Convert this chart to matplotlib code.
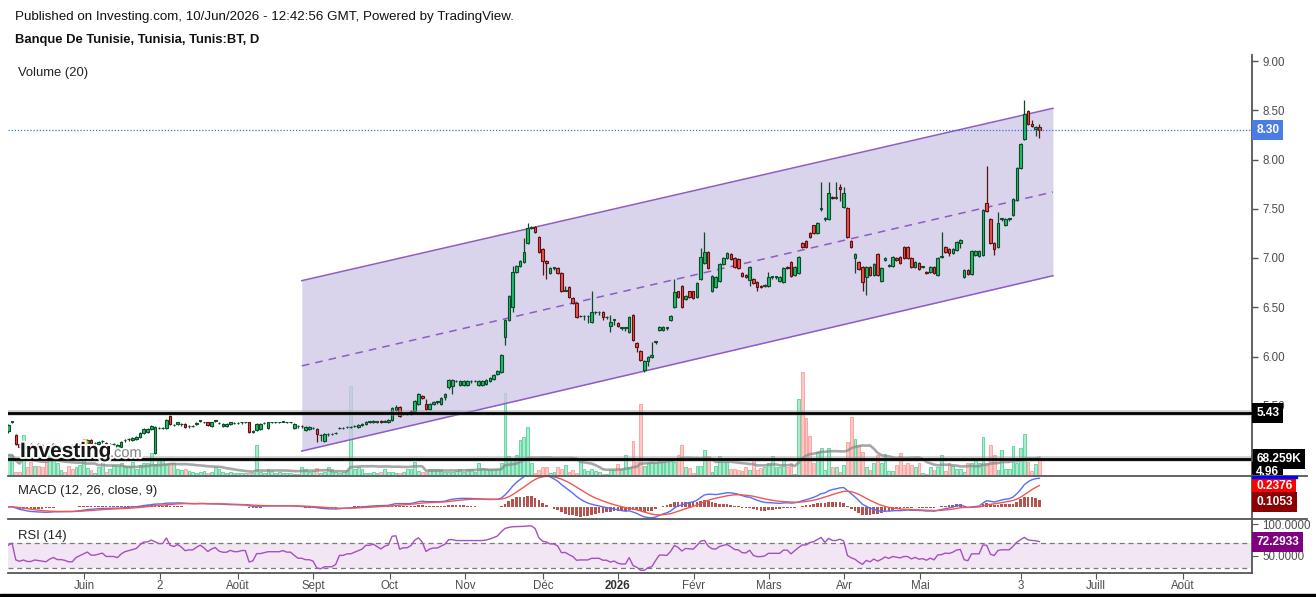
import numpy as np
import pandas as pd
import matplotlib
matplotlib.use("Agg")
import matplotlib.pyplot as plt
from matplotlib.lines import Line2D
from matplotlib.patches import Rectangle
from matplotlib.transforms import Bbox, blended_transform_factory
import matplotlib.patheffects as pe

plt.rcParams['font.family'] = ['Liberation Sans', 'DejaVu Sans']

# daily candles, Banque De Tunisie
opens = [
    5.24, 5.34, 5.20, 5.11, 5.07, 5.08, 5.11, 5.08, 5.11, 5.10, 5.07, 5.08, 5.05, 5.08, 5.07,
    5.08, 5.09, 5.10, 5.06, 5.09, 5.11, 5.12, 5.15, 5.12, 5.11, 5.14, 5.12, 5.11, 5.11, 5.07,
    5.08, 5.15, 5.16, 5.15, 5.16, 5.18, 5.22, 5.23, 5.26, 5.02, 5.27, 5.27, 5.27, 5.40, 5.30,
    5.31, 5.31, 5.31, 5.29, 5.29, 5.31, 5.35, 5.33, 5.33, 5.29, 5.35, 5.32, 5.29, 5.29, 5.31,
    5.32, 5.32, 5.33, 5.33, 5.33, 5.23, 5.25, 5.26, 5.32, 5.27, 5.33, 5.33, 5.33, 5.34, 5.33,
    5.33, 5.27, 5.29, 5.29, 5.25, 5.26, 5.27, 5.26, 5.20, 5.14, 5.21, 5.21, 5.22, 5.27, 5.27,
    5.28, 5.28, 5.29, 5.28, 5.30, 5.31, 5.34, 5.33, 5.34, 5.35, 5.34, 5.33, 5.36, 5.46, 5.49,
    5.42, 5.42, 5.42, 5.45, 5.52, 5.60, 5.52, 5.47, 5.52, 5.54, 5.52, 5.59, 5.69, 5.70, 5.75,
    5.71, 5.71, 5.71, 5.75, 5.75, 5.71, 5.71, 5.72, 5.75, 5.77, 5.82, 5.84, 6.20, 6.37, 6.50,
    6.86, 6.92, 6.96, 7.15, 7.30, 7.31, 7.21, 7.09, 6.97, 6.85, 6.90, 6.90, 6.85, 6.67, 6.71,
    6.59, 6.54, 6.41, 6.41, 6.41, 6.35, 6.45, 6.45, 6.45, 6.40, 6.31, 6.37, 6.34, 6.29, 6.29,
    6.25, 6.42, 6.14, 6.06, 5.86, 5.95, 5.99, 6.15, 6.27, 6.27, 6.29, 6.37, 6.50, 6.66, 6.72,
    6.58, 6.66, 6.66, 6.60, 6.79, 6.95, 7.06, 6.66, 6.71, 6.77, 6.94, 7.00, 7.04, 7.00, 6.99,
    6.85, 6.83, 6.78, 6.79, 6.76, 6.72, 6.72, 6.72, 6.81, 6.81, 6.77, 6.76, 6.91, 6.96, 6.83,
    6.85, 7.15, 7.17, 7.25, 7.33, 7.25, 7.50, 7.40, 7.40, 7.62, 7.61, 7.72, 7.52, 7.51, 7.17,
    7.00, 6.96, 6.91, 6.81, 6.91, 6.83, 7.04, 6.77, 6.98, 6.92, 6.92, 7.00, 7.01, 7.11, 7.11,
    7.00, 6.91, 6.95, 6.91, 6.86, 6.86, 6.91, 6.83, 7.01, 7.11, 7.09, 7.05, 7.08, 7.15, 6.81,
    6.88, 6.84, 7.03, 7.02, 7.03, 7.56, 7.40, 7.15, 7.11, 7.40, 7.33, 7.40, 7.44, 7.59, 7.91,
    8.21, 8.49, 8.36, 8.31, 8.33,
]
closes = [
    5.30, 5.34, 5.11, 5.08, 5.10, 5.07, 5.07, 5.09, 5.08, 5.07, 5.06, 5.09, 5.11, 5.08, 5.08,
    5.07, 5.05, 5.05, 5.09, 5.11, 5.13, 5.15, 5.12, 5.12, 5.13, 5.14, 5.11, 5.11, 5.11, 5.10,
    5.13, 5.15, 5.16, 5.17, 5.18, 5.22, 5.26, 5.26, 5.29, 5.28, 5.27, 5.27, 5.36, 5.31, 5.30,
    5.33, 5.31, 5.28, 5.29, 5.29, 5.32, 5.35, 5.33, 5.30, 5.33, 5.35, 5.32, 5.31, 5.31, 5.33,
    5.32, 5.32, 5.33, 5.33, 5.23, 5.24, 5.31, 5.31, 5.32, 5.33, 5.33, 5.33, 5.33, 5.34, 5.33,
    5.33, 5.31, 5.29, 5.29, 5.28, 5.28, 5.27, 5.21, 5.20, 5.21, 5.21, 5.21, 5.22, 5.27, 5.27,
    5.28, 5.28, 5.29, 5.30, 5.31, 5.34, 5.34, 5.35, 5.34, 5.33, 5.35, 5.36, 5.48, 5.49, 5.40,
    5.42, 5.42, 5.45, 5.55, 5.62, 5.58, 5.47, 5.52, 5.54, 5.54, 5.58, 5.62, 5.76, 5.76, 5.75,
    5.75, 5.75, 5.75, 5.75, 5.75, 5.75, 5.75, 5.76, 5.78, 5.81, 5.85, 6.02, 6.37, 6.61, 6.86,
    6.92, 6.97, 7.06, 7.30, 7.31, 7.26, 7.06, 6.97, 6.95, 6.90, 6.90, 6.85, 6.66, 6.67, 6.60,
    6.54, 6.40, 6.41, 6.41, 6.41, 6.45, 6.45, 6.45, 6.40, 6.40, 6.35, 6.37, 6.31, 6.29, 6.29,
    6.40, 6.17, 6.10, 5.96, 5.95, 6.00, 6.02, 6.15, 6.30, 6.30, 6.29, 6.41, 6.65, 6.60, 6.50,
    6.61, 6.60, 6.59, 6.75, 7.01, 7.06, 6.90, 6.82, 6.81, 6.94, 7.00, 7.05, 6.99, 6.91, 6.90,
    6.82, 6.81, 6.91, 6.75, 6.71, 6.71, 6.73, 6.81, 6.81, 6.81, 6.81, 6.90, 6.90, 6.82, 6.91,
    7.01, 7.11, 7.11, 7.21, 7.25, 7.36, 7.50, 7.40, 7.66, 7.61, 7.61, 7.70, 7.66, 7.21, 7.11,
    7.04, 6.89, 6.76, 6.91, 6.83, 6.94, 6.83, 6.90, 7.00, 6.93, 7.01, 6.98, 6.95, 7.00, 7.00,
    6.91, 6.96, 6.89, 6.91, 6.85, 6.91, 6.85, 7.00, 7.01, 7.06, 7.05, 7.09, 7.16, 7.18, 6.88,
    6.84, 7.07, 7.07, 7.07, 7.49, 7.48, 7.15, 7.09, 7.36, 7.40, 7.40, 7.40, 7.60, 7.91, 8.16,
    8.46, 8.36, 8.34, 8.33, 8.30,
]
highs = [
    5.31, 5.35, 5.21, 5.12, 5.11, 5.09, 5.12, 5.10, 5.12, 5.11, 5.08, 5.10, 5.12, 5.09, 5.09,
    5.09, 5.10, 5.11, 5.10, 5.12, 5.14, 5.16, 5.16, 5.13, 5.14, 5.15, 5.13, 5.12, 5.12, 5.11,
    5.14, 5.16, 5.17, 5.18, 5.19, 5.23, 5.27, 5.27, 5.30, 5.29, 5.28, 5.28, 5.37, 5.41, 5.31,
    5.34, 5.32, 5.32, 5.30, 5.30, 5.33, 5.36, 5.34, 5.34, 5.34, 5.36, 5.33, 5.32, 5.32, 5.34,
    5.33, 5.33, 5.34, 5.34, 5.34, 5.25, 5.32, 5.32, 5.33, 5.34, 5.34, 5.34, 5.34, 5.35, 5.34,
    5.34, 5.32, 5.30, 5.30, 5.29, 5.29, 5.28, 5.27, 5.21, 5.22, 5.22, 5.22, 5.23, 5.28, 5.28,
    5.29, 5.29, 5.30, 5.31, 5.32, 5.35, 5.35, 5.36, 5.35, 5.36, 5.36, 5.37, 5.49, 5.51, 5.50,
    5.43, 5.43, 5.46, 5.56, 5.63, 5.61, 5.57, 5.53, 5.55, 5.55, 5.59, 5.63, 5.77, 5.77, 5.76,
    5.76, 5.76, 5.76, 5.76, 5.76, 5.76, 5.76, 5.77, 5.79, 5.82, 5.86, 6.03, 6.38, 6.62, 6.92,
    6.93, 6.98, 7.20, 7.36, 7.32, 7.32, 7.22, 7.10, 6.98, 6.91, 6.91, 6.91, 6.86, 6.72, 6.72,
    6.60, 6.55, 6.42, 6.42, 6.42, 6.67, 6.46, 6.46, 6.46, 6.41, 6.42, 6.38, 6.35, 6.30, 6.30,
    6.41, 6.43, 6.15, 6.07, 5.96, 6.01, 6.15, 6.16, 6.31, 6.31, 6.30, 6.42, 6.79, 6.67, 6.73,
    6.62, 6.67, 6.67, 6.76, 7.10, 7.26, 7.07, 6.83, 6.82, 6.95, 7.01, 7.06, 7.05, 7.01, 7.00,
    6.86, 6.84, 6.92, 6.80, 6.77, 6.73, 6.74, 6.86, 6.82, 6.82, 6.82, 6.91, 6.92, 6.97, 6.92,
    7.02, 7.16, 7.18, 7.26, 7.34, 7.37, 7.77, 7.42, 7.77, 7.63, 7.77, 7.75, 7.72, 7.52, 7.18,
    7.05, 6.97, 6.92, 6.92, 6.92, 6.95, 7.05, 6.91, 7.01, 6.94, 7.02, 7.01, 7.02, 7.12, 7.12,
    7.01, 6.97, 6.96, 6.92, 6.87, 6.92, 6.92, 7.01, 7.26, 7.12, 7.10, 7.10, 7.17, 7.19, 6.89,
    6.89, 7.08, 7.08, 7.08, 7.50, 7.93, 7.41, 7.16, 7.47, 7.41, 7.41, 7.41, 7.61, 7.92, 8.17,
    8.60, 8.50, 8.40, 8.34, 8.36,
]
lows = [
    5.22, 5.32, 5.10, 5.07, 5.06, 5.06, 5.06, 5.07, 5.07, 5.06, 5.05, 5.07, 5.04, 5.07, 5.06,
    5.06, 5.04, 5.04, 5.05, 5.08, 5.10, 5.11, 5.11, 5.10, 5.10, 5.12, 5.10, 5.10, 5.10, 5.06,
    5.07, 5.13, 5.14, 5.14, 5.15, 5.17, 5.21, 5.22, 5.25, 5.01, 5.26, 5.26, 5.26, 5.30, 5.29,
    5.30, 5.29, 5.27, 5.27, 5.28, 5.30, 5.33, 5.32, 5.29, 5.28, 5.33, 5.31, 5.28, 5.28, 5.30,
    5.31, 5.31, 5.31, 5.32, 5.22, 5.22, 5.24, 5.25, 5.31, 5.26, 5.32, 5.32, 5.32, 5.33, 5.32,
    5.32, 5.26, 5.27, 5.27, 5.24, 5.25, 5.26, 5.13, 5.14, 5.13, 5.19, 5.20, 5.21, 5.26, 5.26,
    5.27, 5.27, 5.28, 5.27, 5.29, 5.30, 5.32, 5.32, 5.32, 5.32, 5.33, 5.32, 5.35, 5.45, 5.39,
    5.41, 5.41, 5.41, 5.44, 5.51, 5.57, 5.46, 5.46, 5.51, 5.52, 5.51, 5.56, 5.67, 5.62, 5.74,
    5.70, 5.70, 5.70, 5.73, 5.74, 5.70, 5.70, 5.71, 5.74, 5.76, 5.81, 5.83, 6.12, 6.36, 6.45,
    6.85, 6.91, 6.95, 7.14, 7.29, 7.25, 7.05, 6.83, 6.79, 6.84, 6.88, 6.84, 6.65, 6.66, 6.59,
    6.53, 6.39, 6.40, 6.37, 6.34, 6.34, 6.43, 6.42, 6.37, 6.38, 6.25, 6.32, 6.30, 6.27, 6.26,
    6.24, 6.16, 6.05, 5.95, 5.84, 5.90, 5.98, 6.13, 6.26, 6.26, 6.27, 6.36, 6.49, 6.59, 6.49,
    6.57, 6.59, 6.58, 6.59, 6.78, 6.94, 6.89, 6.65, 6.70, 6.76, 6.93, 6.99, 6.98, 6.90, 6.89,
    6.81, 6.80, 6.72, 6.74, 6.66, 6.70, 6.71, 6.71, 6.79, 6.79, 6.76, 6.75, 6.89, 6.81, 6.82,
    6.84, 7.10, 7.10, 7.20, 7.24, 7.24, 7.48, 7.38, 7.39, 7.60, 7.60, 7.58, 7.51, 7.20, 7.10,
    6.85, 6.88, 6.67, 6.62, 6.82, 6.82, 6.82, 6.76, 6.97, 6.91, 6.91, 6.97, 6.94, 6.99, 6.99,
    6.90, 6.90, 6.88, 6.90, 6.84, 6.85, 6.84, 6.82, 7.00, 7.05, 7.02, 7.04, 7.07, 7.10, 6.80,
    6.83, 6.83, 7.02, 7.01, 7.02, 7.47, 7.14, 7.03, 7.10, 7.38, 7.32, 7.38, 7.43, 7.58, 7.90,
    8.20, 8.35, 8.33, 8.24, 8.22,
]
volumes_k = [
    85, 85, 13, 13, 171, 34, 56, 38, 38, 34, 56, 128, 73, 51, 21, 13, 38, 26, 34, 43,
    64, 30, 21, 9, 34, 56, 13, 26, 43, 38, 51, 38, 38, 56, 26, 43, 51, 51, 94, 47,
    68, 64, 47, 51, 51, 26, 21, 26, 17, 13, 9, 13, 17, 9, 13, 34, 26, 13, 9, 13,
    9, 9, 9, 9, 9, 9, 128, 13, 9, 26, 17, 9, 13, 9, 9, 9, 4, 4, 34, 26,
    13, 17, 30, 9, 13, 34, 26, 13, 9, 13, 21, 380, 26, 34, 26, 9, 9, 13, 9, 13,
    26, 13, 13, 9, 9, 13, 26, 26, 56, 17, 13, 13, 26, 26, 26, 26, 13, 13, 13, 17,
    26, 13, 26, 26, 13, 51, 30, 26, 26, 26, 26, 51, 350, 81, 64, 85, 149, 162, 205,
    51, 9, 21, 34, 34, 9, 13, 34, 26, 43, 13, 21, 9, 73, 26, 17, 26, 17, 13, 4,
    4, 21, 21, 47, 26, 85, 34, 145, 56, 303, 38, 51, 56, 51, 64, 56, 64, 68, 56, 85,
    128, 34, 30, 9, 38, 38, 107, 81, 13, 38, 81, 56, 56, 26, 26, 21, 17, 34, 21, 73,
    21, 30, 34, 51, 81, 34, 34, 73, 34, 51, 4, 325, 440, 243, 167, 51, 98, 115, 21, 115,
    34, 34, 13, 43, 141, 248, 154, 128, 98, 34, 21, 51, 85, 51, 90, 17, 17, 43, 94, 43,
    51, 43, 34, 51, 9, 4, 34, 21, 34, 85, 17, 51, 38, 26, 26, 13, 51, 51, 64, 51,
    162, 51, 128, 85, 21, 107, 26, 26, 124, 51, 115, 175, 56, 17, 47, 68.259,
]

# month ticks (bar index of the first session) and their labels
month_pos = [20.1, 40.3, 61.0, 81.0, 101.4, 121.4, 142.1, 162.0, 182.2, 202.2,
             222.1, 242.3, 269.1, 289.0, 312.2]
month_labels = ['Juin', '2', 'Août', 'Sept', 'Oct', 'Nov', 'Déc', '2026', 'Févr',
                'Mars', 'Avr', 'Mai', '3', 'Juill', 'Août']

# parallel channel drawing
channel_x = [78.0, 277.6]
channel_top = [6.77, 8.52]
channel_bottom = [5.04, 6.82]

support_level = 5.43
last_price = 8.30
dividend_bar, dividend_price = 20, 5.13

W, H = 1316, 597
def fx(px):
    return px / W
def fy(py):
    return 1 - py / H

fig = plt.figure(figsize=(W / 100, H / 100), dpi=100)
fig.patch.set_facecolor('white')

L, R = 8, 1252
ax_vol = fig.add_axes([fx(L), fy(475), (R - L) / W, (475 - 55) / H])
ax = fig.add_axes([fx(L), fy(475), (R - L) / W, (475 - 55) / H], sharex=ax_vol)
ax_macd = fig.add_axes([fx(L), fy(519), (R - L) / W, 44 / H], sharex=ax_vol)
ax_rsi = fig.add_axes([fx(L), fy(573), (R - L) / W, 54 / H], sharex=ax_vol)
ax.patch.set_alpha(0)

n = len(closes)
x = np.arange(n)
o = np.array(opens); c = np.array(closes)
hi = np.array(highs); lo = np.array(lows)
vol = np.array(volumes_k, dtype=float)
up = c >= o

UP_BODY, UP_EDGE = '#1dbf68', '#0d4a29'
DN_BODY, DN_EDGE = '#ef4f47', '#5a1212'
GRID = '#555555'

# ---- volume (behind) ----
ax_vol.bar(x[up], vol[up], width=0.75, color='#a9ebcb', edgecolor='#55d39a', linewidth=0.6)
ax_vol.bar(x[~up], vol[~up], width=0.75, color='#ffc8c6', edgecolor='#f59f9b', linewidth=0.6)
vol_ma = pd.Series(vol).rolling(20, min_periods=1).mean()
ax_vol.plot(x, vol_ma, color='#8a8a8a', lw=1.9, alpha=0.75)
ax_vol.set_ylim(0, 420 * 4.27)
ax_vol.axhline(vol[-1], color='#9a9a9a', lw=4, alpha=0.5)
ax_vol.axhline(vol[-1], color='black', lw=2)
for s in ax_vol.spines.values():
    s.set_visible(False)
ax_vol.set_yticks([])
ax_vol.tick_params(axis='x', length=0, labelbottom=False)

# ---- price ----
ax.fill_between(channel_x, channel_bottom, channel_top, color='#cfc7e6', alpha=0.78, lw=0, zorder=1)
ax.plot(channel_x, channel_top, color='#8f5cc2', lw=1.1, zorder=2)
ax.plot(channel_x, channel_bottom, color='#8f5cc2', lw=1.1, zorder=2)
mid = (np.array(channel_top) + np.array(channel_bottom)) / 2
ax.plot(channel_x, mid, color='#8f5cc2', lw=1.1, ls=(0, (5, 4)), zorder=2)

ax.vlines(x[up], lo[up], hi[up], color=UP_EDGE, lw=0.9, zorder=3)
ax.vlines(x[~up], lo[~up], hi[~up], color=DN_EDGE, lw=0.9, zorder=3)
body = np.maximum(np.abs(c - o), 0.006)
ax.bar(x[up], body[up], bottom=np.minimum(o, c)[up], width=0.68, color=UP_BODY,
       edgecolor=UP_EDGE, linewidth=0.8, zorder=4)
ax.bar(x[~up], body[~up], bottom=np.minimum(o, c)[~up], width=0.68, color=DN_BODY,
       edgecolor=DN_EDGE, linewidth=0.8, zorder=4)
ax.plot(dividend_bar, dividend_price, 'o', color='#f5a623', ms=4, zorder=5)

ax.axhline(support_level, color='#9a9a9a', lw=4, alpha=0.5, zorder=6)
ax.axhline(support_level, color='black', lw=2, zorder=6)
ax.axhline(last_price, color='#3a6fe0', lw=0.9, ls=(0, (1, 1.5)), zorder=6)

ax.set_ylim(9 - (475 - 61) / 98.5, 9 + 6 / 98.5)
ax.set_xlim(-0.08, (1252 - 8.3) / 3.763)
ax.yaxis.tick_right()
ax.set_yticks(np.arange(5.5, 9.01, 0.5))
ax.yaxis.set_major_formatter(plt.FormatStrFormatter('%.2f'))
ax.tick_params(axis='y', colors=GRID, labelsize=8.3, length=4, width=1, labelcolor='#4d4d4d')
ax.tick_params(axis='x', length=0, labelbottom=False)
for k, s in ax.spines.items():
    s.set_visible(k == 'right')
ax.spines['right'].set_color(GRID)
ax.spines['right'].set_linewidth(1.3)

def side_label(axis, y, text, fc, ytrans=None, clip=None):
    tr = blended_transform_factory(axis.transAxes, ytrans if ytrans is not None else axis.transData)
    t = axis.annotate(text, xy=(1.0, y), xycoords=tr, xytext=(3.0, 0), textcoords='offset points',
                      ha='left', va='center', color='white', fontsize=8.6, fontweight='bold',
                      bbox=dict(boxstyle='square,pad=0.33', fc=fc, ec='none'),
                      annotation_clip=False, zorder=10)
    if clip is not None:
        t.set_clip_on(True)
        t.set_clip_box(clip)
    return t

side_label(ax, last_price, '%.2f' % last_price, '#4a7ce8')
side_label(ax, support_level, '%.2f' % support_level, 'black')
side_label(ax_vol, vol[-1], '%.3fK' % vol[-1], 'black')
side_label(ax, 4.83, '4.96', 'black', clip=Bbox.from_extents(1240, H - 475, W, H - 55))

ax.text(10 / (R - L), 1 - (73 - 55) / 420, 'Volume (20)', transform=ax.transAxes,
        fontsize=9.4, va='center', ha='left', color='#222222')

# ---- MACD ----
s = pd.Series(c)
macd = s.ewm(span=12, adjust=False).mean() - s.ewm(span=26, adjust=False).mean()
signal = macd.ewm(span=9, adjust=False).mean()
hist = macd - signal
ax_macd.bar(x, hist, width=0.7, color='#b4524e', zorder=2)
ax_macd.plot(x, macd, color='#5a6cf5', lw=1, zorder=3)
ax_macd.plot(x, signal, color='#f2574f', lw=1, zorder=3)
ax_macd.set_ylim(-0.143, 0.38)
ax_macd.yaxis.tick_right()
ax_macd.set_yticks([0])
ax_macd.set_yticklabels(['0.0000'])
ax_macd.tick_params(axis='y', colors=GRID, labelsize=8.3, length=4, labelcolor='#4d4d4d')
ax_macd.tick_params(axis='x', length=0, labelbottom=False)
for k, sp in ax_macd.spines.items():
    sp.set_visible(k == 'right')
ax_macd.spines['right'].set_color(GRID)
ax_macd.spines['right'].set_linewidth(1.3)
ax_macd.text(10 / (R - L), 0.64, 'MACD (12, 26, close, 9)', transform=ax_macd.transAxes,
             fontsize=9.4, va='center', ha='left', color='#222222')
side_label(ax_macd, 0.76, '0.2376', '#ff0000', ytrans=ax_macd.transAxes)
side_label(ax_macd, 0.385, '0.1053', '#8b0000', ytrans=ax_macd.transAxes)
fig.patches.append(Rectangle((fx(1252), fy(477.6)), (1297 - 1252) / W, 2 / H,
                             transform=fig.transFigure, color='#0000ff', zorder=20))

# ---- RSI (Wilder, 14) - started from a neutral-bullish state before the first visible bar ----
avg_gain, avg_loss = 0.02, 0.01
rsi = []
prev = c[0]
for price in c:
    d = price - prev
    prev = price
    avg_gain = (avg_gain * 13 + max(d, 0)) / 14
    avg_loss = (avg_loss * 13 + max(-d, 0)) / 14
    rsi.append(100 - 100 / (1 + avg_gain / avg_loss) if avg_loss > 0 else 100)
rsi = np.array(rsi)

ax_rsi.axhspan(30, 70, color='#f2e6f4', lw=0, zorder=0)
for lvl in (30, 70):
    ax_rsi.axhline(lvl, color='#7a7a7a', lw=0.9, ls=(0, (4, 3)), zorder=1)
ax_rsi.plot(x, rsi, color='#a64fbf', lw=1, zorder=2)
ax_rsi.set_ylim(22.5, 108.4)
ax_rsi.yaxis.tick_right()
ax_rsi.set_yticks([50, 100])
ax_rsi.set_yticklabels(['50.0000', '100.0000'])
ax_rsi.tick_params(axis='y', colors=GRID, labelsize=8.3, length=4, labelcolor='#4d4d4d')
ax_rsi.set_xticks(month_pos)
ax_rsi.set_xticklabels(month_labels)
ax_rsi.tick_params(axis='x', colors=GRID, labelsize=8.3, length=4, labelcolor='#4d4d4d', pad=1)
for lab in ax_rsi.get_xticklabels():
    if lab.get_text() == '2026':
        lab.set_fontweight('bold')
        lab.set_color('#333333')
for k, sp in ax_rsi.spines.items():
    sp.set_visible(k in ('right', 'bottom'))
    sp.set_color(GRID)
    sp.set_linewidth(1.3)
ax_rsi.text(10 / (R - L), 0.68, 'RSI (14)', transform=ax_rsi.transAxes,
            fontsize=9.4, va='center', ha='left', color='#222222')
side_label(ax_rsi, 72.2933, '72.2933', '#800080')

# pane separators
for py in (475.5, 519):
    fig.add_artist(Line2D([fx(8), fx(1307)], [fy(py), fy(py)], color=GRID, lw=1.3))

# header
fig.text(fx(15), fy(17), 'Published on Investing.com, 10/Jun/2026 - 12:42:56 GMT, Powered by TradingView.',
         fontsize=9.6, va='center', ha='left', color='#111111')
fig.text(fx(15), fy(40), 'Banque De Tunisie, Tunisia, Tunis:BT, D', fontsize=9.4,
         fontweight='bold', va='center', ha='left', color='#111111')

# watermark
halo = [pe.withStroke(linewidth=3, foreground='white')]
fig.text(fx(20), fy(457), 'Investing', fontsize=15, fontweight='bold', color='black',
         va='baseline', ha='left', path_effects=halo, alpha=0.9, zorder=30)
fig.text(fx(110), fy(457), '.com', fontsize=10.5, color='#777777',
         va='baseline', ha='left', path_effects=halo, alpha=0.9, zorder=30)

# black strip at the very bottom
fig.patches.append(Rectangle((0, 0), 1, 3 / H, transform=fig.transFigure, color='black', zorder=20))

fig.savefig('out.png', dpi=100)
